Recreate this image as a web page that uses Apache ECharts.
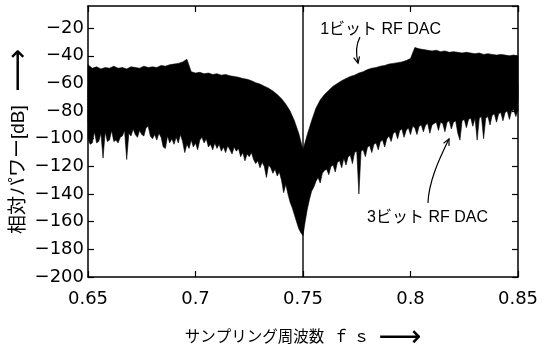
<!DOCTYPE html>
<html>
<head>
<meta charset="utf-8">
<script src="https://cdn.jsdelivr.net/npm/echarts@6/dist/echarts.min.js"></script>
<style>
  html, body { margin: 0; padding: 0; background: #fff; }
  #chart { width: 554px; height: 360px; }
</style>
</head>
<body>
<div id="chart"></div>
<script>
// Normalised frequency axis (units of fs) and relative power axis (dB)
const freqTicks = [0.65, 0.7, 0.75, 0.8, 0.85];
const powerTicks = [-200, -180, -160, -140, -120, -100, -80, -60, -40, -20];
const powerTop = -4;

// 1-bit RF DAC: upper edge of the noise spectrum, every 0.002 fs from 0.65
const dac1Top = [
  -46.5, -49, -48, -49.5, -48.5, -49, -47.5, -49, -48.5, -49.5,
  -48, -48.5, -49, -47.5, -48.5, -48, -48.5, -47, -47.5, -46.5,
  -46, -45.5, -44.5, -42.5, -51.5, -52.5, -52, -53, -52.5, -53.5,
  -53, -54, -53.5, -54.5, -55, -55.5, -56.5, -57, -58, -59.5,
  -60.5, -62, -63.5, -65.5, -68, -71, -75, -80, -87, -96,
  -108, -97, -87, -78, -72, -68, -65, -62, -60, -58,
  -56.5, -55, -54, -52.5, -51.5, -50, -49, -48.5, -47.5, -47,
  -46, -45.5, -45, -44.5, -43.5, -42, -34, -35, -35.5, -36,
  -36.5, -36, -37, -36.5, -37.5, -37, -37.5, -38, -37.5, -38,
  -38.5, -38, -39, -38.5, -39, -39.5, -39, -39.5, -40, -39.5, -40
];
// 1-bit RF DAC: lower edge, every 0.005 fs from 0.65 (lies inside the 3-bit trace)
const dac1Bottom = [
  -88, -89, -88, -89, -88, -88, -88, -89, -88, -88,
  -90, -91, -92, -93, -95, -97, -100, -104, -110, -120,
  -132,
  -118, -105, -98, -92, -88, -85, -83, -81, -80,
  -78, -72, -72, -72, -72, -72, -72, -72, -72, -72, -72
];
// 3-bit RF DAC: upper edge, every 0.005 fs from 0.65 (lies inside the 1-bit trace)
const dac3Top = [
  -62, -63, -62, -63, -62, -62, -61, -61, -60, -58,
  -64, -65, -66, -67, -68, -70, -73, -77, -84, -96,
  -118,
  -100, -86, -80, -76, -73, -70, -68, -67, -66,
  -64, -57, -58, -58, -58, -59, -59, -59, -60, -60, -60
];
// 3-bit RF DAC: lower edge, every 0.001 fs from 0.65
const dac3Bottom = [
  -100, -104, -103, -95, -103, -102, -96, -114, -95, -102,
  -101, -94, -102, -101, -103, -99, -98, -94, -115, -96,
  -98, -93, -97, -99, -94, -97, -98, -92, -91, -98,
  -100, -97, -101, -96, -99, -106, -107, -98, -103, -100,
  -104, -99, -103, -97, -102, -110, -104, -107, -101, -106,
  -103, -108, -101, -99, -103, -100, -106, -104, -108, -103,
  -107, -104, -109, -106, -110, -105, -108, -111, -106, -109,
  -107, -113, -110, -116, -111, -113, -110, -115, -118, -116,
  -121, -117, -120, -128, -119, -121, -125, -122, -127, -124,
  -130, -139, -133, -140, -146, -150, -155, -160, -165, -168,
  -170,
  -160, -151, -144, -138, -135, -131, -128, -132, -125, -123,
  -122, -126, -120, -119, -124, -117, -116, -121, -114, -119,
  -113, -112, -118, -110, -109, -140, -109, -108, -113, -106,
  -105, -110, -104, -103, -108, -102, -101, -106, -100, -98,
  -102, -96, -95, -100, -94, -93, -99, -94, -92, -97,
  -91, -92, -97, -91, -90, -95, -90, -89, -96, -90,
  -89, -88, -94, -88, -89, -95, -88, -87, -93, -88,
  -87, -96, -101, -87, -86, -92, -86, -85, -91, -85,
  -101, -85, -84, -100, -85, -84, -90, -83, -82, -88,
  -82, -81, -87, -81, -80, -86, -80, -79, -84, -79
];
// Carrier tone
const toneFreq = 0.75;
const toneLevel = 0;

const fMin = freqTicks[0];
const fMax = freqTicks[freqTicks.length - 1];
const fStep = freqTicks[1] - freqTicks[0];
const pMin = powerTicks[0];
const pStep = powerTicks[1] - powerTicks[0];

function toPoints(values, start, step) {
  return values.map((v, i) => [start + i * step, v]);
}
const dac1TopPts = toPoints(dac1Top, fMin, 0.002);
const dac1BottomPts = toPoints(dac1Bottom, fMin, 0.005);
const dac3TopPts = toPoints(dac3Top, fMin, 0.005);
const dac3BottomPts = toPoints(dac3Bottom, fMin, 0.001);

// Dense FFT trace drawn as the filled region between its upper and lower edges
function bandRenderer(upper, lower) {
  return function (params, api) {
    const pts = upper.map(p => api.coord(p))
      .concat(lower.slice().reverse().map(p => api.coord(p)));
    return {
      type: 'polygon',
      shape: { points: pts },
      style: { fill: '#000', stroke: '#000', lineWidth: 0.6 }
    };
  };
}

const tickFont = { fontFamily: '"DejaVu Sans", sans-serif', fontSize: 18, color: '#000' };
const titleFont = '"Liberation Sans", "Noto Sans CJK JP", sans-serif';
const titleToken = size => ({ fontFamily: titleFont, fontSize: size, color: '#000', verticalAlign: 'middle', lineHeight: 20 });
const arrowToken = { fontFamily: '"DejaVu Sans", sans-serif', fontSize: 30, color: '#000', verticalAlign: 'middle', lineHeight: 20 };
const frameLine = { show: true, lineStyle: { color: '#000', width: 1.5 } };
const innerTick = { show: true, inside: true, length: 6, lineStyle: { color: '#000', width: 1.2 } };

const freqAxisBase = { type: 'value', min: fMin, max: fMax, interval: fStep,
  axisLine: frameLine, axisTick: innerTick, splitLine: { show: false } };
const powerAxisBase = { type: 'value', min: pMin, max: powerTop, interval: pStep,
  axisLine: frameLine, axisTick: innerTick, splitLine: { show: false } };

const chart = echarts.init(document.getElementById('chart'), null, { renderer: 'canvas' });
chart.setOption({
  animation: false,
  backgroundColor: '#fff',
  grid: { left: 88, right: 36, top: 6, bottom: 83, containLabel: false, outerBoundsMode: 'none' },
  xAxis: [
    Object.assign({}, freqAxisBase, {
      position: 'bottom',
      axisLabel: Object.assign({ margin: 13, formatter: v => String(Number(v.toFixed(2))) }, tickFont),
      name: '{t|サンプリング周波数}{s|  ｆ ｓ  }{a|⟶}',
      nameLocation: 'middle',
      nameGap: 51,
      nameMoveOverlap: false,
      nameTextStyle: { rich: { t: titleToken(15.5), s: titleToken(16), a: arrowToken } }
    }),
    Object.assign({}, freqAxisBase, { position: 'top', axisLabel: { show: false } })
  ],
  yAxis: [
    Object.assign({}, powerAxisBase, {
      position: 'left',
      axisLabel: Object.assign({
        margin: 4,
        showMaxLabel: false,
        formatter: v => (v % pStep !== 0 ? '' : (v < 0 ? '\u2212' + Math.abs(v) : String(v)))
      }, tickFont),
      name: '{t|相対パワー[dB]}{s|   }{a|⟶}',
      nameLocation: 'middle',
      nameRotate: 90,
      nameGap: 59,
      nameMoveOverlap: false,
      nameTextStyle: { rich: { t: titleToken(19), s: titleToken(16), a: arrowToken } }
    }),
    Object.assign({}, powerAxisBase, { position: 'right', axisLabel: { show: false } })
  ],
  series: [
    {
      name: '1ビット RF DAC', type: 'custom', silent: true, z: 2,
      renderItem: bandRenderer(dac1TopPts, dac1BottomPts),
      data: [[toneFreq, dac1Top[0]]], encode: { x: 0, y: 1 }
    },
    {
      name: '3ビット RF DAC', type: 'custom', silent: true, z: 2,
      renderItem: bandRenderer(dac3TopPts, dac3BottomPts),
      data: [[toneFreq, dac3Bottom[0]]], encode: { x: 0, y: 1 }
    },
    {
      name: 'tone', type: 'line', silent: true, z: 3, clip: true,
      symbol: 'none',
      lineStyle: { color: '#000', width: 1.4 },
      data: [[toneFreq, pMin], [toneFreq, toneLevel]]
    }
  ]
});

// Labels with curved pointer arrows, placed in data coordinates
const labelFont = '"Liberation Sans", "Noto Sans CJK JP", sans-serif';
const px = p => chart.convertToPixel({ gridIndex: 0 }, p);

function pointer(start, c1, c2, end) {
  const s = px(start), a = px(c1), b = px(c2), e = px(end);
  const ang = Math.atan2(e[1] - b[1], e[0] - b[0]);
  const len = 7, spread = 0.45;
  const h1 = [e[0] - len * Math.cos(ang - spread), e[1] - len * Math.sin(ang - spread)];
  const h2 = [e[0] - len * Math.cos(ang + spread), e[1] - len * Math.sin(ang + spread)];
  return [
    { type: 'bezierCurve', silent: true,
      shape: { x1: s[0], y1: s[1], cpx1: a[0], cpy1: a[1], cpx2: b[0], cpy2: b[1], x2: e[0], y2: e[1] },
      style: { stroke: '#000', lineWidth: 1.2, fill: null } },
    { type: 'polyline', silent: true,
      shape: { points: [h1, e, h2] },
      style: { stroke: '#000', lineWidth: 1.2, fill: null } }
  ];
}
function label(text, at) {
  const p = px(at);
  return { type: 'text', silent: true, x: p[0], y: p[1],
    style: { text: text, fontFamily: labelFont, fontSize: 16, fill: '#000', align: 'left', verticalAlign: 'middle' } };
}

chart.setOption({
  graphic: [
    label('1ビット RF DAC', [0.758, -21]),
    ...pointer([0.7765, -26.5], [0.7742, -33], [0.7747, -39.5], [0.7756, -45.3]),
    label('3ビット RF DAC', [0.7798, -157]),
    ...pointer([0.8081, -146.4], [0.8086, -129.7], [0.8137, -113.9], [0.8179, -100.1])
  ]
});
</script>
</body>
</html>
